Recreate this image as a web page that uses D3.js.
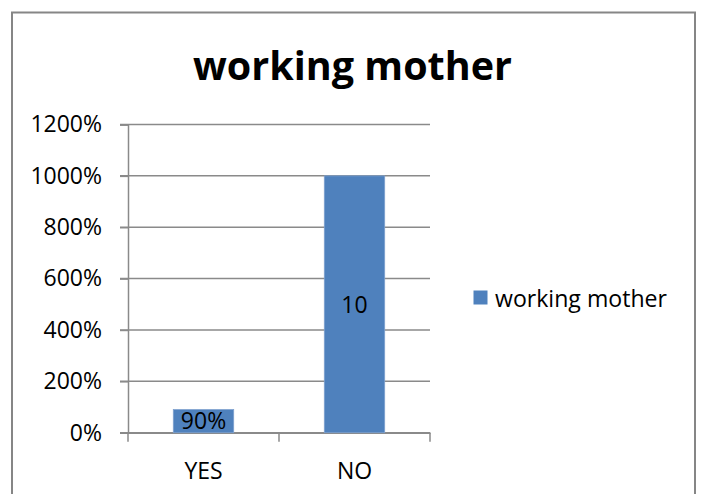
<!DOCTYPE html>
<html>
<head>
<meta charset="utf-8">
<script src="https://cdn.jsdelivr.net/npm/d3@7"></script>
<style>
  html, body { margin: 0; padding: 0; background: #fff; }
  svg { display: block; }
  text { font-family: "Open Sans", "Noto Sans", sans-serif; fill: #000; }
</style>
</head>
<body>
<svg id="chart" width="701" height="494"></svg>
<script>
const title = "working mother";
const seriesName = "working mother";
const categories = ["YES", "NO"];
const values = [0.9, 10];
const dataLabels = ["90%", "10"];
const yTicks = [0, 2, 4, 6, 8, 10, 12];

const W = 701, H = 494;
const svg = d3.select("#chart");

// outer chart border (bottom edge is outside the picture)
svg.append("rect")
  .attr("x", 12).attr("y", 12.5)
  .attr("width", 683).attr("height", 520)
  .attr("fill", "#fff")
  .attr("stroke", "#868686").attr("stroke-width", 2);

const plot = { left: 128, right: 430, top: 124.5, bottom: 432.7 };

const x = d3.scaleBand()
  .domain(categories)
  .range([plot.left, plot.right])
  .paddingInner(0.6)
  .paddingOuter(0.3);

const xCat = d3.scaleBand()
  .domain(categories)
  .range([plot.left, plot.right])
  .padding(0);

const y = d3.scaleLinear()
  .domain([0, 12])
  .range([plot.bottom, plot.top]);

const pct = d3.format(".0%");
const gridColor = "#8a8a8a";

// gridlines
svg.append("g")
  .selectAll("line")
  .data(yTicks)
  .join("line")
  .attr("x1", plot.left - 8).attr("x2", plot.right)
  .attr("y1", d => y(d)).attr("y2", d => y(d))
  .attr("stroke", gridColor).attr("stroke-width", 1.5);

// y axis (line + labels)
const yAxis = d3.axisLeft(y)
  .tickValues(yTicks)
  .tickFormat(pct)
  .tickSize(8)
  .tickPadding(18);
const gy = svg.append("g")
  .attr("transform", `translate(${plot.left},0)`)
  .call(yAxis);
gy.select(".domain").attr("stroke", gridColor).attr("stroke-width", 1.5);
gy.selectAll(".tick line").attr("stroke", gridColor).attr("stroke-width", 1.5);
gy.selectAll(".tick text")
  .attr("font-size", 23)
  .attr("font-family", "'Open Sans', sans-serif")
  .attr("fill", "#000");

// x axis
const xAxis = d3.axisBottom(xCat).tickSize(0).tickPadding(30);
const gx = svg.append("g")
  .attr("transform", `translate(0,${plot.bottom})`)
  .call(xAxis);
gx.select(".domain").attr("stroke", gridColor).attr("stroke-width", 1.5);
gx.selectAll(".tick text")
  .attr("font-size", 23)
  .attr("font-family", "'Open Sans', sans-serif")
  .attr("fill", "#000");
// category boundary tick marks
const bounds = [plot.left].concat(categories.map(c => xCat(c) + xCat.bandwidth()));
svg.append("g").selectAll("line")
  .data(bounds)
  .join("line")
  .attr("x1", d => d).attr("x2", d => d)
  .attr("y1", plot.bottom).attr("y2", plot.bottom + 9)
  .attr("stroke", gridColor).attr("stroke-width", 1.5);

// bars
svg.append("g").selectAll("rect")
  .data(values)
  .join("rect")
  .attr("x", (d, i) => x(categories[i]))
  .attr("width", x.bandwidth())
  .attr("y", d => y(d))
  .attr("height", d => y(0) - y(d))
  .attr("fill", "#4F81BD")
  .attr("stroke", "#7ea1cf")
  .attr("stroke-width", 0.8);

// data labels
svg.append("g").selectAll("text")
  .data(values)
  .join("text")
  .attr("x", (d, i) => x(categories[i]) + x.bandwidth() / 2)
  .attr("y", d => (y(d) + y(0)) / 2)
  .attr("dy", "0.36em")
  .attr("text-anchor", "middle")
  .attr("font-size", 23)
  .text((d, i) => dataLabels[i]);

// title
svg.append("text")
  .attr("x", 352.5).attr("y", 80)
  .attr("text-anchor", "middle")
  .attr("font-size", 40)
  .attr("font-weight", "bold")
  .attr("textLength", 319)
  .attr("lengthAdjust", "spacingAndGlyphs")
  .text(title);

// legend
const lg = svg.append("g").attr("transform", "translate(473.5,290.5)");
lg.append("rect")
  .attr("width", 14).attr("height", 14)
  .attr("fill", "#4F81BD");
lg.append("text")
  .attr("x", 21.5).attr("y", 16)
  .attr("font-size", 23)
  .attr("textLength", 172)
  .attr("lengthAdjust", "spacingAndGlyphs")
  .text(seriesName);
</script>
</body>
</html>
